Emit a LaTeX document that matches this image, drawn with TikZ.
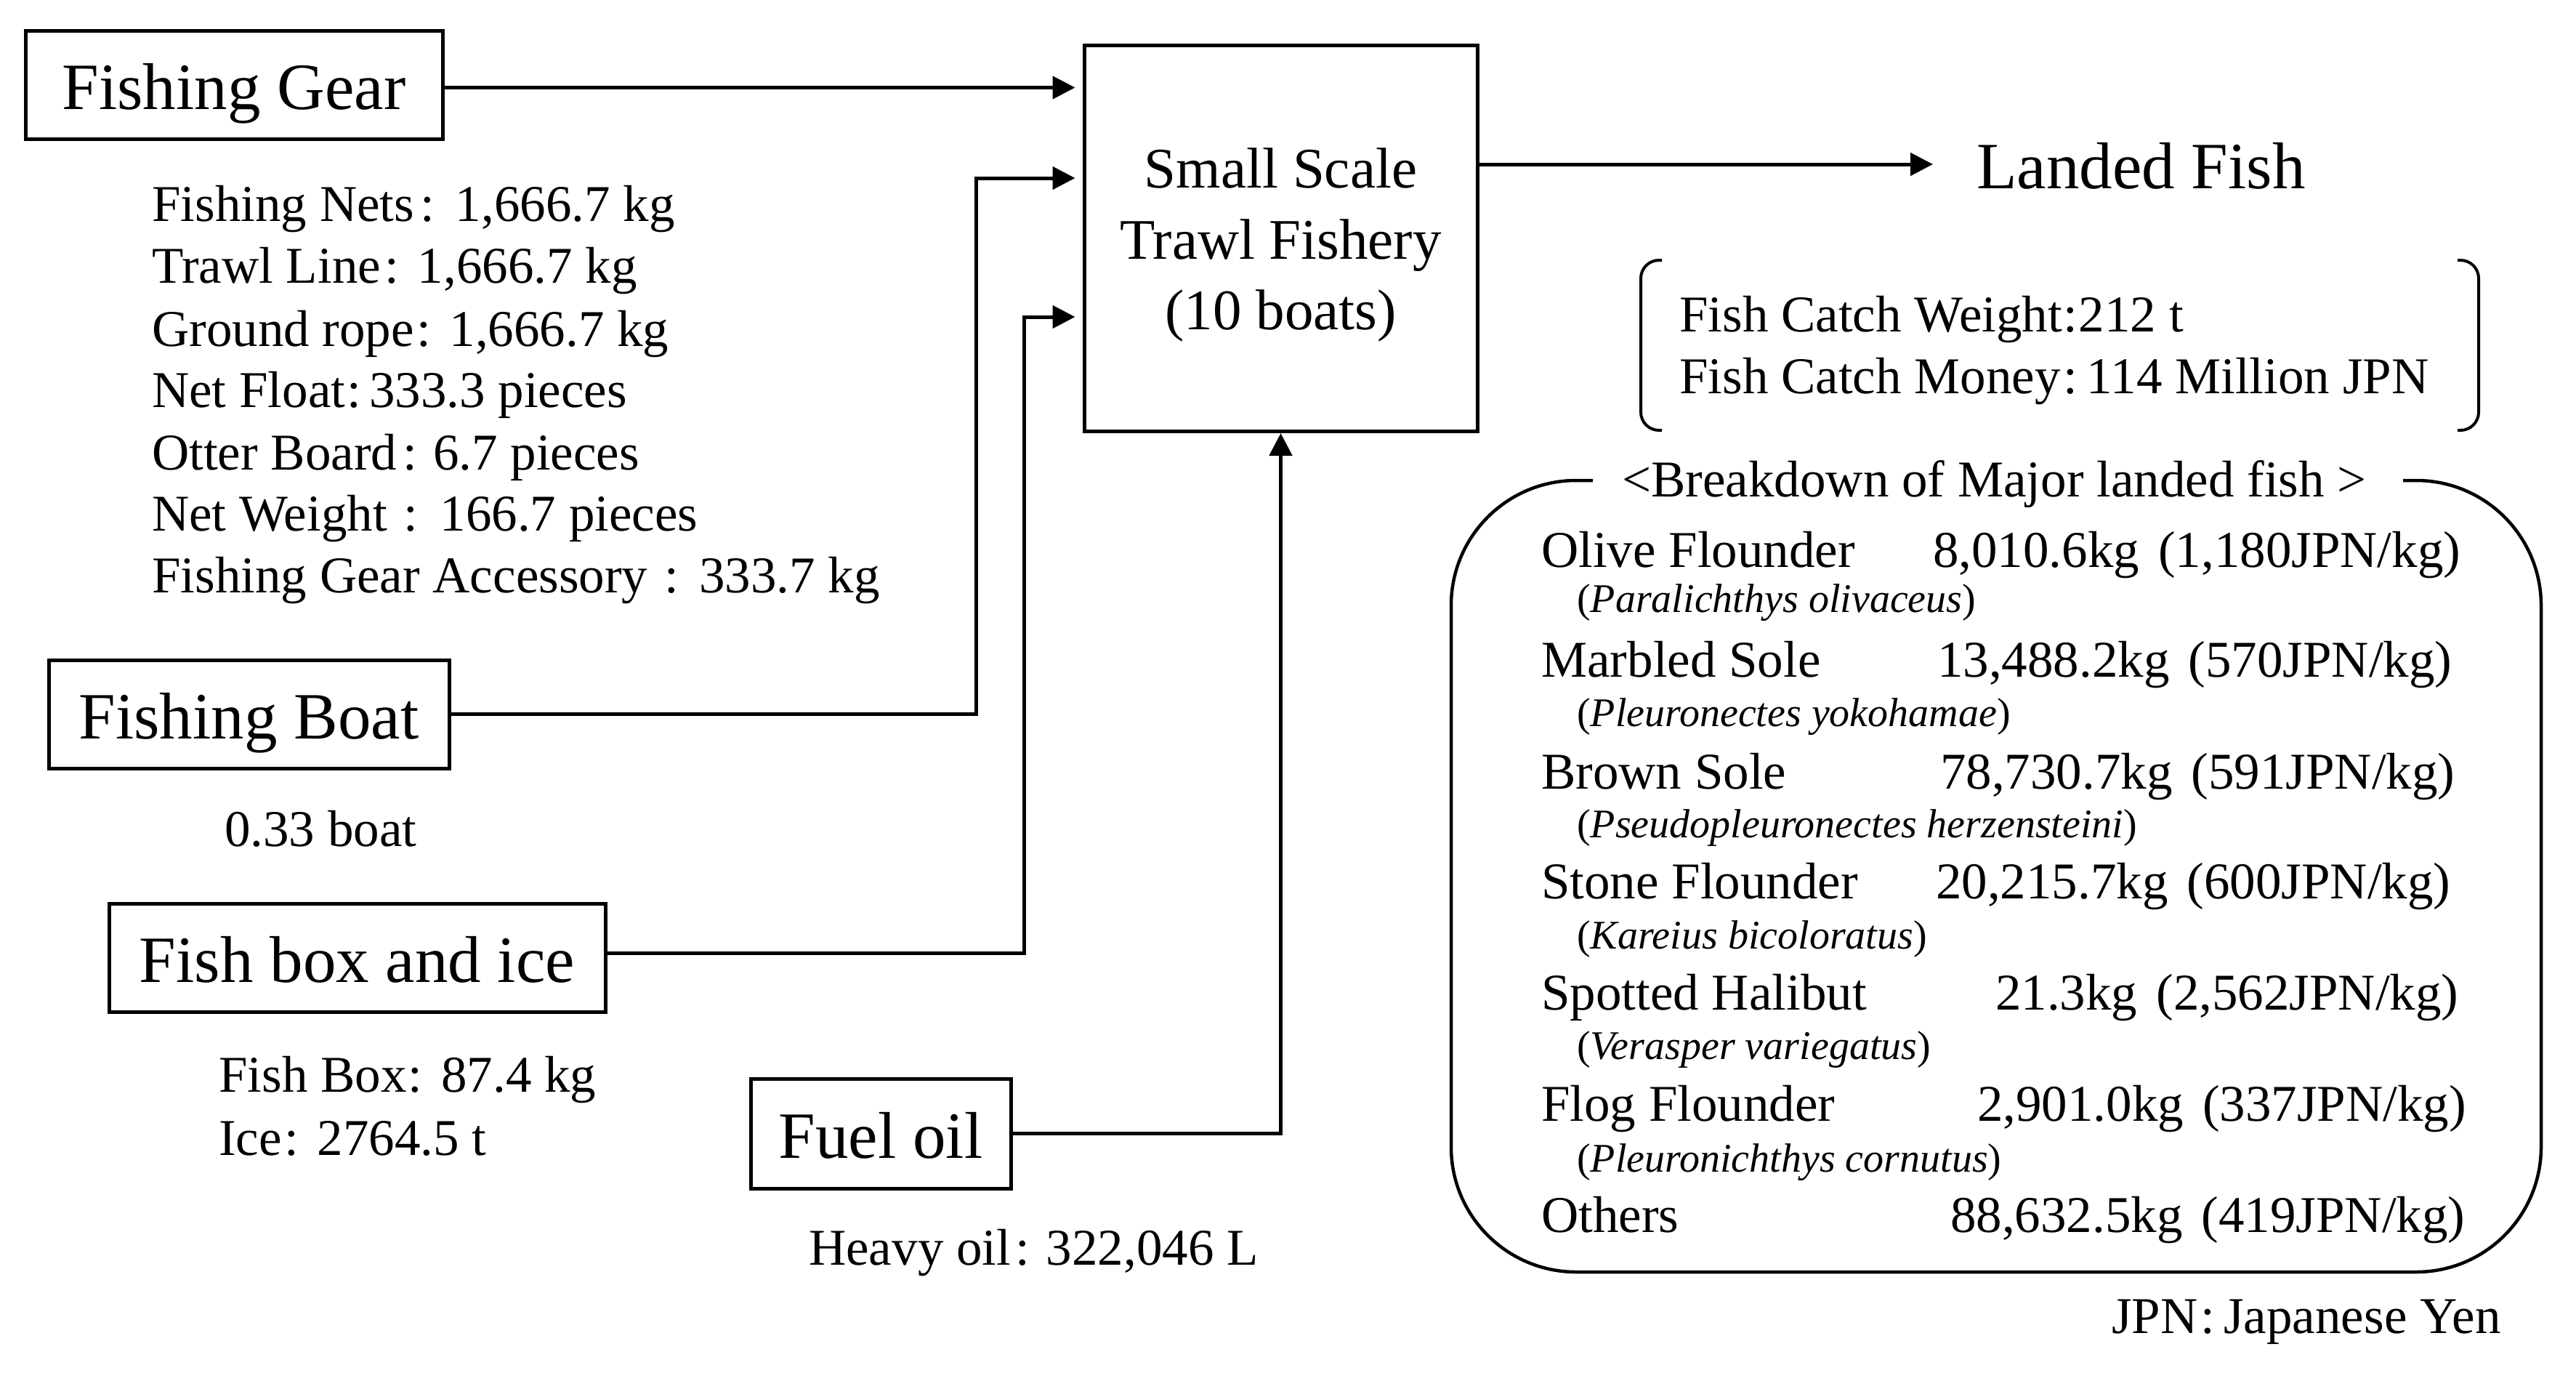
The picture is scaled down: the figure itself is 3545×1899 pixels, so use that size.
\documentclass[tikz,border=0pt]{standalone}
\usepackage{fontspec}
\setmainfont{Liberation Serif}
\usetikzlibrary{arrows.meta}
\newcommand\fBig{\fontsize{91pt}{100pt}\selectfont}
\newcommand\fMain{\fontsize{79pt}{97pt}\selectfont}
\newcommand\fSmall{\fontsize{71pt}{85pt}\selectfont}
\newcommand\fSci{\fontsize{56pt}{60pt}\selectfont}
\newcommand\colsp[2]{\kern#1pt:\kern#2pt\relax}
\tikzset{
  box/.style={draw, line width=5pt, inner sep=0pt, font=\fBig, text height=67pt, text depth=0pt},
  txt/.style={inner sep=0pt, anchor=base west, font=\fSmall},
  sci/.style={inner sep=0pt, anchor=base west, font=\fSci},
  con/.style={line width=5pt},
  arr/.style={line width=5pt, -{Triangle[length=31pt,width=31pt]}},
}
\begin{document}
\begin{tikzpicture}[x=1pt,y=-1pt]
\fill[white] (0,0) rectangle (3545,1899);
\useasboundingbox (0,0) rectangle (3545,1899);

% boxes
\node[box, minimum width=574pt, minimum height=149pt] (gear) at (322,116.5) {Fishing Gear};
\node[box, minimum width=551pt, minimum height=149pt] (boat) at (342.5,982.5) {Fishing Boat};
\node[box, minimum width=683pt, minimum height=149pt] (fishbox) at (491.5,1317.5) {Fish box and ice};
\node[box, minimum width=358pt, minimum height=151pt] (fuel) at (1212,1559.5) {Fuel oil};
\node[box, minimum width=541pt, minimum height=531pt] (main) at (1762.5,328) {};

% main box text
\node[txt, anchor=base, font=\fMain] (m1) at (1762.5,258) {Small Scale};
\node[txt, anchor=base, font=\fMain] (m2) at (1762.5,356) {Trawl Fishery};
\node[txt, anchor=base, font=\fMain] (m3) at (1762.5,453) {(10 boats)};

% landed fish
\node[txt, font=\fBig] (landed) at (2720,259) {Landed Fish};

% gear details
\node[txt] (g1) at (209,304) {Fishing Nets\colsp{8}{29}1,666.7 kg};
\node[txt] (g2) at (209,389) {Trawl Line\colsp{5}{26}1,666.7 kg};
\node[txt] (g3) at (209,476) {Ground rope\colsp{4}{25}1,666.7 kg};
\node[txt] (g4) at (209,560) {Net Float\colsp{2}{11}333.3 pieces};
\node[txt] (g5) at (209,646) {Otter Board\colsp{8}{22}6.7 pieces};
\node[txt] (g6) at (209,730) {Net Weight\colsp{23}{30}166.7 pieces};
\node[txt] (g7) at (209,815) {Fishing Gear Accessory\colsp{23}{28}333.7 kg};

\node[txt] (bt) at (309,1164) {0.33 boat};
\node[txt] (fb1) at (301,1502) {Fish Box\colsp{2}{26}87.4 kg};
\node[txt] (fb2) at (301,1589) {Ice\colsp{4}{25}2764.5 t};
\node[txt] (fo) at (1113,1740) {Heavy oil\colsp{6}{23}322,046 L};

% connectors
\coordinate (b1) at (1343,245);
\coordinate (c1) at (1409,436);
\draw[arr, shorten >=10pt] ([yshift=-4pt]gear.east) -- ([yshift=-4pt]gear.east -| main.west);
\draw[arr, shorten >=10pt] (boat.east) -| (b1) -- (b1 -| main.west);
\draw[arr, shorten >=10pt] ([yshift=6pt]fishbox.east) -| (c1) -- (c1 -| main.west);
\draw[arr] (fuel.east) -| (main.south);
\draw[arr] (main.east |- 0,226) -- ([xshift=-60pt]landed.west |- 0,226);

% catch bracket
\draw[con, line width=4pt, rounded corners=25pt] (2287,358) -- (2258,358) -- (2258,592) -- (2287,592);
\draw[con, line width=4pt, rounded corners=25pt] (3382,358) -- (3411,358) -- (3411,592) -- (3382,592);
\node[txt] (cw) at (2311,456) {Fish Catch Weight\colsp{1}{2}212 t};
\node[txt] (cm) at (2311,541) {Fish Catch Money\colsp{4}{12}114 Million JPN};

% breakdown box
\draw[con, line width=4.5pt, rounded corners=172pt] (2192,661) -- (1997,661) -- (1997,1750) -- (3497,1750) -- (3497,661) -- (3307,661);
\node[txt] (bdt) at (2232,683) {<Breakdown of Major landed fish >};

\node[txt] (n1) at (2121,780) {Olive Flounder};
\node[txt] (v1) at (2660,780) {8,010.6kg\kern26pt(1,180JPN/kg)};
\node[sci] (s1) at (2170,842) {(\textit{Paralichthys olivaceus})};

\node[txt] (n2) at (2121,931) {Marbled Sole};
\node[txt] (v2) at (2666,931) {13,488.2kg\kern26pt(570JPN/kg)};
\node[sci] (s2) at (2170,999) {(\textit{Pleuronectes yokohamae})};

\node[txt] (n3) at (2121,1085) {Brown Sole};
\node[txt] (v3) at (2670,1085) {78,730.7kg\kern26pt(591JPN/kg)};
\node[sci] (s3) at (2170,1152) {(\textit{Pseudopleuronectes herzensteini})};

\node[txt] (n4) at (2121,1236) {Stone Flounder};
\node[txt] (v4) at (2664,1236) {20,215.7kg\kern26pt(600JPN/kg)};
\node[sci] (s4) at (2170,1305) {(\textit{Kareius bicoloratus})};

\node[txt] (n5) at (2121,1389) {Spotted Halibut};
\node[txt] (v5) at (2746,1389) {21.3kg\kern26pt(2,562JPN/kg)};
\node[sci] (s5) at (2170,1457) {(\textit{Verasper variegatus})};

\node[txt] (n6) at (2121,1542) {Flog Flounder};
\node[txt] (v6) at (2721,1542) {2,901.0kg\kern26pt(337JPN/kg)};
\node[sci] (s6) at (2170,1612) {(\textit{Pleuronichthys cornutus})};

\node[txt] (n7) at (2121,1695) {Others};
\node[txt] (v7) at (2684,1695) {88,632.5kg\kern26pt(419JPN/kg)};

\node[txt] (jpn) at (2906,1834) {JPN\colsp{4}{12}Japanese Yen};
\end{tikzpicture}
\end{document}
